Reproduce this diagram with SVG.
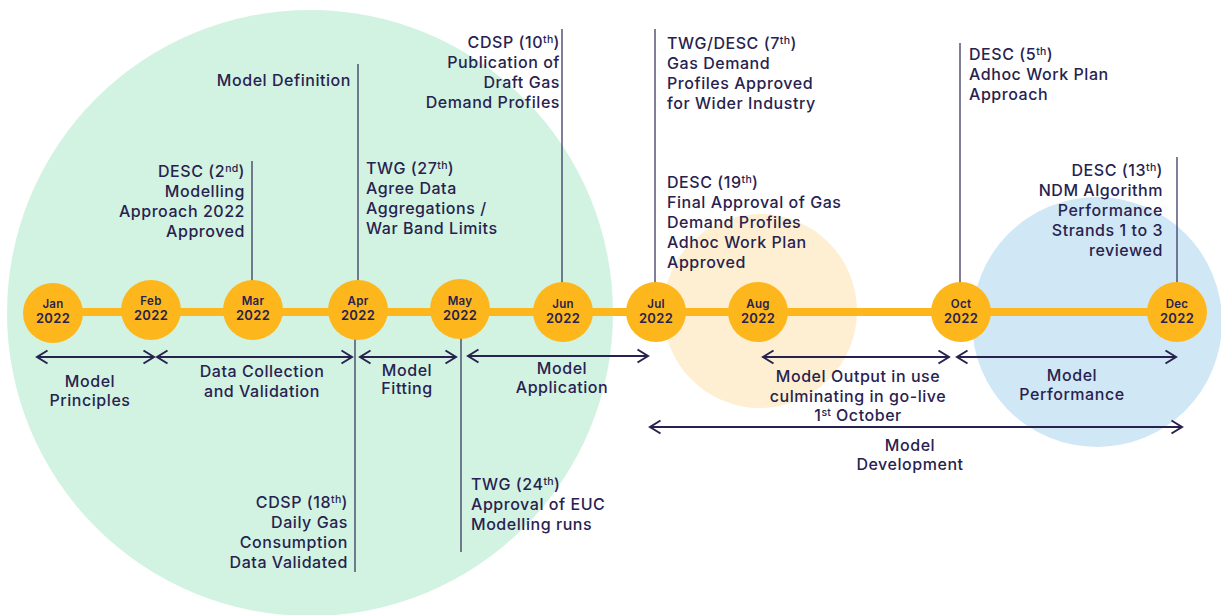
<svg xmlns="http://www.w3.org/2000/svg" width="1221" height="615" viewBox="0 0 1221 615">
  <style>
    .lbl { font-family: Inter, "Open Sans", "Liberation Sans", sans-serif; font-size: 16px; font-weight: 500; letter-spacing: 0.55px; fill: #28224f; }
    .end { text-anchor: end; }
    .mid { text-anchor: middle; }
    .sup { font-size: 10.5px; letter-spacing: 0.3px; }
    .mon { font-family: Inter, "Open Sans", "Liberation Sans", sans-serif; font-weight: 600; fill: #28224f; text-anchor: middle; letter-spacing: 0.3px; }
    .mon .m { font-size: 11.5px; }
    .mon .y { font-size: 13px; }
    .dot { fill: #fdb71c; }
    .tick { stroke: #3b3860; stroke-width: 1.3; fill: none; }
    .span { stroke: #28224f; stroke-width: 2; fill: none; marker-start: url(#chev); marker-end: url(#chev); }
  </style>
  <defs>
    <marker id="chev" viewBox="0 0 14 16" refX="12" refY="8" markerWidth="14" markerHeight="16" markerUnits="userSpaceOnUse" orient="auto-start-reverse">
      <path d="M1.5,1.5 L12,8 L1.5,14.5" fill="none" stroke="#28224f" stroke-width="2"/>
    </marker>
  </defs>

  <rect width="1221" height="615" fill="#ffffff"/>

  <!-- phase backdrops -->
  <circle cx="310" cy="313" r="303" fill="#d2f3e2"/>
  <circle cx="760" cy="311" r="97" fill="#feefd2"/>
  <circle cx="1097" cy="322" r="125" fill="#d0e7f5"/>

  <!-- timeline bar -->
  <line x1="53" y1="312" x2="1177" y2="312" stroke="#fdb71c" stroke-width="8"/>

  <g id="connectors">
    <!-- milestone ticks -->
    <line class="tick" x1="252" y1="161" x2="252" y2="281"/>
    <line class="tick" x1="358" y1="64" x2="358" y2="281"/>
    <line class="tick" x1="355" y1="338" x2="355" y2="572"/>
    <line class="tick" x1="461" y1="338" x2="461" y2="552"/>
    <line class="tick" x1="562" y1="29" x2="562" y2="283"/>
    <line class="tick" x1="655" y1="29" x2="655" y2="283"/>
    <line class="tick" x1="960" y1="43" x2="960" y2="283"/>
    <line class="tick" x1="1177" y1="157" x2="1177" y2="283"/>
    <!-- phase spans -->
    <line class="span" x1="37" y1="357" x2="154" y2="357"/>
    <line class="span" x1="157" y1="357" x2="352" y2="357"/>
    <line class="span" x1="360" y1="357" x2="456" y2="357"/>
    <line class="span" x1="468" y1="356" x2="648" y2="356"/>
    <line class="span" x1="763" y1="357" x2="949" y2="357"/>
    <line class="span" x1="957" y1="357" x2="1176" y2="357"/>
    <line class="span" x1="650" y1="427" x2="1182" y2="427"/>
  </g>

  <!-- months -->
  <g id="jan"><circle class="dot" cx="53" cy="313" r="30"/><text class="mon"><tspan class="m" x="53" y="308">Jan</tspan><tspan class="y" x="53" y="323">2022</tspan></text></g>
  <g id="feb"><circle class="dot" cx="151" cy="310" r="30"/><text class="mon"><tspan class="m" x="151" y="305">Feb</tspan><tspan class="y" x="151" y="320">2022</tspan></text></g>
  <g id="mar"><circle class="dot" cx="253" cy="310" r="30"/><text class="mon"><tspan class="m" x="253" y="305">Mar</tspan><tspan class="y" x="253" y="320">2022</tspan></text></g>
  <g id="apr"><circle class="dot" cx="358" cy="310" r="30"/><text class="mon"><tspan class="m" x="358" y="305">Apr</tspan><tspan class="y" x="358" y="320">2022</tspan></text></g>
  <g id="may"><circle class="dot" cx="460" cy="309" r="30"/><text class="mon"><tspan class="m" x="460" y="305">May</tspan><tspan class="y" x="460" y="320">2022</tspan></text></g>
  <g id="jun"><circle class="dot" cx="563" cy="312" r="30"/><text class="mon"><tspan class="m" x="563" y="308">Jun</tspan><tspan class="y" x="563" y="323">2022</tspan></text></g>
  <g id="jul"><circle class="dot" cx="656" cy="312" r="30"/><text class="mon"><tspan class="m" x="656" y="308">Jul</tspan><tspan class="y" x="656" y="323">2022</tspan></text></g>
  <g id="aug"><circle class="dot" cx="758" cy="312" r="30"/><text class="mon"><tspan class="m" x="758" y="308">Aug</tspan><tspan class="y" x="758" y="323">2022</tspan></text></g>
  <g id="oct"><circle class="dot" cx="961" cy="312" r="30"/><text class="mon"><tspan class="m" x="961" y="308">Oct</tspan><tspan class="y" x="961" y="323">2022</tspan></text></g>
  <g id="dec"><circle class="dot" cx="1177" cy="312" r="30"/><text class="mon"><tspan class="m" x="1177" y="308">Dec</tspan><tspan class="y" x="1177" y="323">2022</tspan></text></g>

  <!-- milestones above the bar -->
  <g id="model-definition">
    <text class="lbl end" x="351" y="86">Model Definition</text>
  </g>
  <g id="desc-2nd">
    <text class="lbl end" x="245" y="177">DESC (2<tspan class="sup" dy="-5">nd</tspan><tspan dy="5">)</tspan></text>
    <text class="lbl end" x="245" y="197">Modelling</text>
    <text class="lbl end" x="245" y="217">Approach 2022</text>
    <text class="lbl end" x="245" y="237">Approved</text>
  </g>
  <g id="twg-27th">
    <text class="lbl" x="366" y="174">TWG (27<tspan class="sup" dy="-5">th</tspan><tspan dy="5">)</tspan></text>
    <text class="lbl" x="366" y="194">Agree Data</text>
    <text class="lbl" x="366" y="214">Aggregations /</text>
    <text class="lbl" x="366" y="234">War Band Limits</text>
  </g>
  <g id="cdsp-10th">
    <text class="lbl end" x="560" y="48">CDSP (10<tspan class="sup" dy="-5">th</tspan><tspan dy="5">)</tspan></text>
    <text class="lbl end" x="560" y="68">Publication of</text>
    <text class="lbl end" x="560" y="88">Draft Gas</text>
    <text class="lbl end" x="560" y="108">Demand Profiles</text>
  </g>
  <g id="twg-desc-7th">
    <text class="lbl" x="667" y="49">TWG/DESC (7<tspan class="sup" dy="-5">th</tspan><tspan dy="5">)</tspan></text>
    <text class="lbl" x="667" y="69">Gas Demand</text>
    <text class="lbl" x="667" y="89">Profiles Approved</text>
    <text class="lbl" x="667" y="109">for Wider Industry</text>
  </g>
  <g id="desc-19th">
    <text class="lbl" x="667" y="188">DESC (19<tspan class="sup" dy="-5">th</tspan><tspan dy="5">)</tspan></text>
    <text class="lbl" x="667" y="208">Final Approval of Gas</text>
    <text class="lbl" x="667" y="228">Demand Profiles</text>
    <text class="lbl" x="667" y="248">Adhoc Work Plan</text>
    <text class="lbl" x="667" y="268">Approved</text>
  </g>
  <g id="desc-5th">
    <text class="lbl" x="969" y="60">DESC (5<tspan class="sup" dy="-5">th</tspan><tspan dy="5">)</tspan></text>
    <text class="lbl" x="969" y="80">Adhoc Work Plan</text>
    <text class="lbl" x="969" y="100">Approach</text>
  </g>
  <g id="desc-13th">
    <text class="lbl end" x="1163" y="176">DESC (13<tspan class="sup" dy="-5">th</tspan><tspan dy="5">)</tspan></text>
    <text class="lbl end" x="1163" y="196">NDM Algorithm</text>
    <text class="lbl end" x="1163" y="216">Performance</text>
    <text class="lbl end" x="1163" y="236">Strands 1 to 3</text>
    <text class="lbl end" x="1163" y="256">reviewed</text>
  </g>

  <!-- milestones below the bar -->
  <g id="cdsp-18th">
    <text class="lbl end" x="348" y="508">CDSP (18<tspan class="sup" dy="-5">th</tspan><tspan dy="5">)</tspan></text>
    <text class="lbl end" x="348" y="528">Daily Gas</text>
    <text class="lbl end" x="348" y="548">Consumption</text>
    <text class="lbl end" x="348" y="568">Data Validated</text>
  </g>
  <g id="twg-24th">
    <text class="lbl" x="471" y="490">TWG (24<tspan class="sup" dy="-5">th</tspan><tspan dy="5">)</tspan></text>
    <text class="lbl" x="471" y="510">Approval of EUC</text>
    <text class="lbl" x="471" y="530">Modelling runs</text>
  </g>

  <!-- phase labels -->
  <g id="model-principles">
    <text class="lbl mid" x="90" y="387">Model</text>
    <text class="lbl mid" x="90" y="406">Principles</text>
  </g>
  <g id="data-collection">
    <text class="lbl mid" x="262" y="377">Data Collection</text>
    <text class="lbl mid" x="262" y="397">and Validation</text>
  </g>
  <g id="model-fitting">
    <text class="lbl mid" x="407" y="376">Model</text>
    <text class="lbl mid" x="407" y="394">Fitting</text>
  </g>
  <g id="model-application">
    <text class="lbl mid" x="562" y="374">Model</text>
    <text class="lbl mid" x="562" y="393">Application</text>
  </g>
  <g id="model-output">
    <text class="lbl mid" x="858" y="382">Model Output in use</text>
    <text class="lbl mid" x="858" y="402">culminating in go-live</text>
    <text class="lbl mid" x="858" y="421">1<tspan class="sup" dy="-5">st</tspan><tspan dy="5"> October</tspan></text>
  </g>
  <g id="model-performance">
    <text class="lbl mid" x="1072" y="381">Model</text>
    <text class="lbl mid" x="1072" y="400">Performance</text>
  </g>
  <g id="model-development">
    <text class="lbl mid" x="910" y="451">Model</text>
    <text class="lbl mid" x="910" y="470">Development</text>
  </g>
</svg>
